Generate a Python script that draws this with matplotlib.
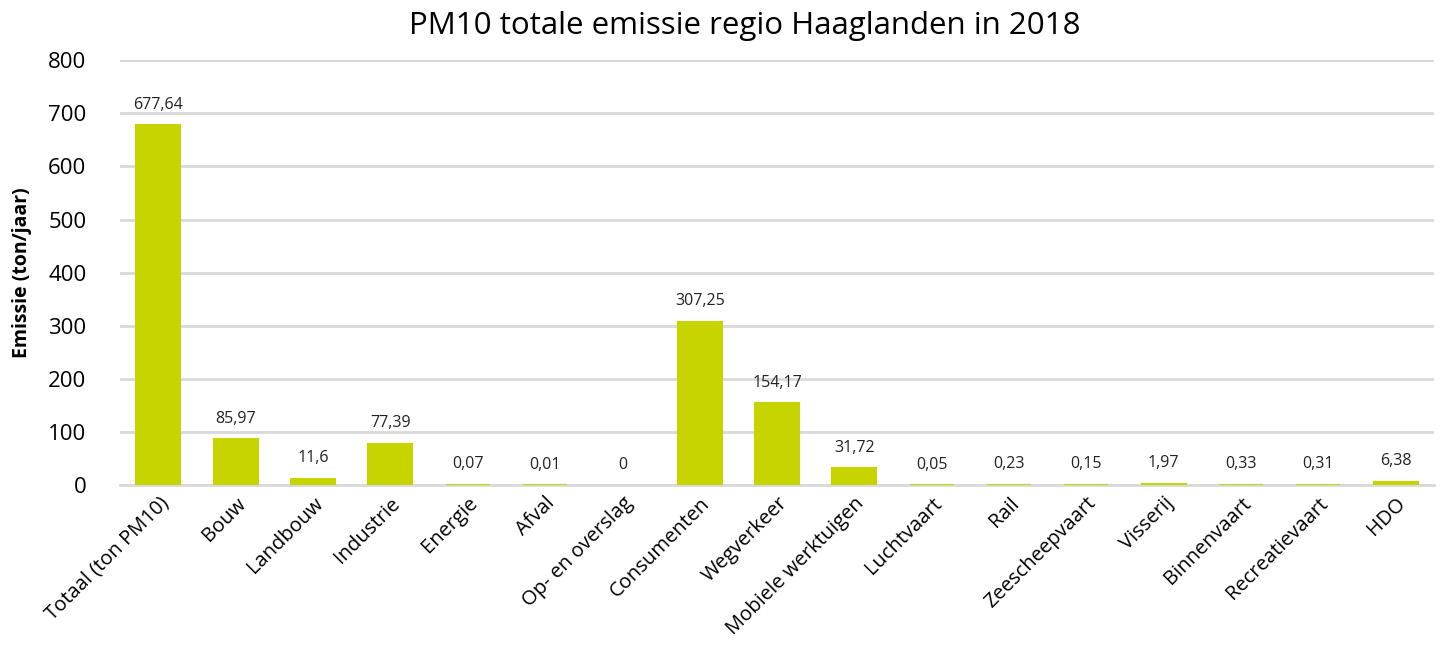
import numpy as np
import matplotlib.pyplot as plt

categories = ['Totaal (ton PM10)', 'Bouw', 'Landbouw', 'Industrie', 'Energie', 'Afval',
              'Op- en overslag', 'Consumenten', 'Wegverkeer', 'Mobiele werktuigen',
              'Luchtvaart', 'Rail', 'Zeescheepvaart', 'Visserij', 'Binnenvaart',
              'Recreatievaart', 'HDO']
values = [677.64, 85.97, 11.6, 77.39, 0.07, 0.01, 0, 307.25, 154.17, 31.72,
          0.05, 0.23, 0.15, 1.97, 0.33, 0.31, 6.38]
labels = ['677,64', '85,97', '11,6', '77,39', '0,07', '0,01', '0', '307,25', '154,17',
          '31,72', '0,05', '0,23', '0,15', '1,97', '0,33', '0,31', '6,38']

plt.rcParams['font.family'] = ['Open Sans', 'DejaVu Sans']
bar_color = '#C8D400'

fig = plt.figure(figsize=(14.43, 6.48), dpi=100)
ax = fig.add_axes([0.083, 0.2515, 0.911, 0.6555])

x = np.arange(len(categories))
edges = [bar_color if v > 0 else 'none' for v in values]
ax.bar(x, values, width=0.57, color=bar_color, edgecolor=edges, linewidth=1.5, zorder=3)

for xi, v, lab in zip(x, values, labels):
    ax.annotate(lab, (xi, v), xytext=(0, 9), textcoords='offset points',
                ha='center', va='bottom', fontsize=11.5, color='#222222')

ax.set_xlim(-0.5, len(categories) - 0.5)
ax.set_ylim(0, 800)
ax.set_yticks(range(0, 801, 100))
ax.yaxis.grid(True, color='#D9D9D9', linewidth=2, zorder=0)
ax.set_axisbelow(True)
for s in ['top', 'right', 'left']:
    ax.spines[s].set_visible(False)
ax.spines['bottom'].set_color('#D9D9D9')
ax.spines['bottom'].set_linewidth(2)

ax.set_xticks(x)
ax.set_xticklabels(categories, rotation=45, ha='right', rotation_mode='anchor', fontsize=14.5)
ax.tick_params(axis='x', length=0, pad=6)
ax.tick_params(axis='y', length=0, pad=24, labelsize=16)

ax.set_ylabel('Emissie (ton/jaar)', fontsize=14, fontweight='bold', labelpad=12)
fig.text(0.516, 0.960, 'PM10 totale emissie regio Haaglanden in 2018', fontsize=22.5,
         ha='center', va='center')

fig.savefig('out.png', dpi=100)
